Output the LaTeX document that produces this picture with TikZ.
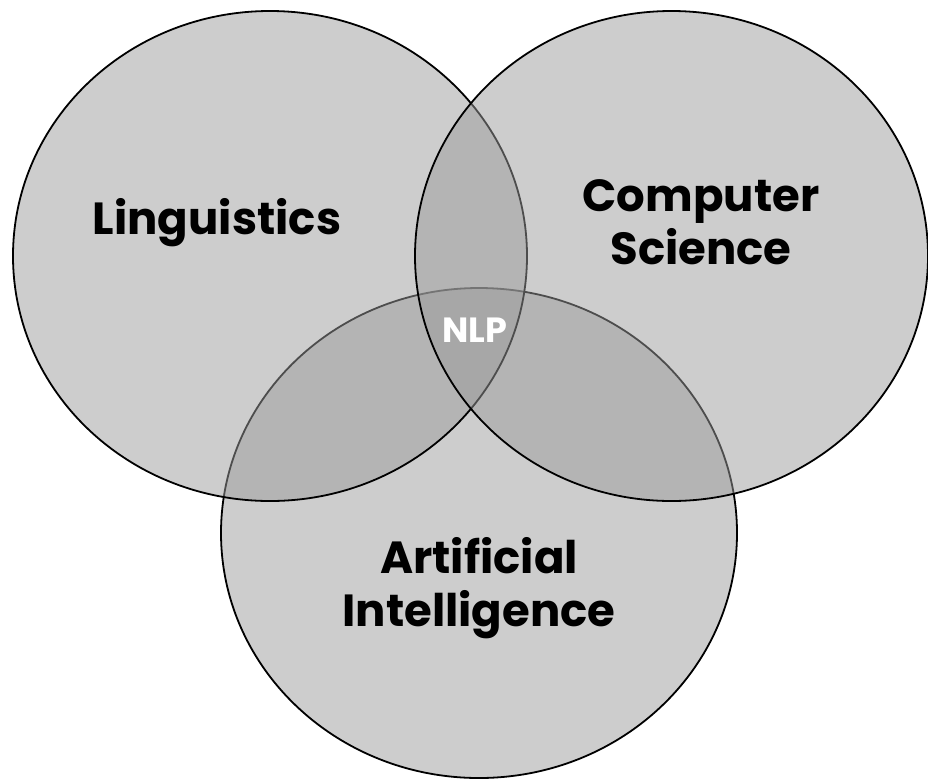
\documentclass[tikz,border=0pt]{standalone}
\usepackage{fontspec}
\setmainfont{Poppins}
\definecolor{setfill}{RGB}{155,155,155}
\begin{document}
\begin{tikzpicture}[x=1pt,y=-1pt,
  setc/.style={draw=black, line width=1.8pt, fill=setfill, fill opacity=0.5},
  big/.style={font=\fontsize{45}{53}\selectfont\bfseries, align=center, text=black},
  small/.style={font=\fontsize{35}{40}\selectfont\bfseries, text=white}]
\useasboundingbox (0,0) rectangle (928,780);
\draw[setc] (479,533) ellipse [x radius=258, y radius=245];
\draw[setc] (270,256) ellipse [x radius=257, y radius=245];
\draw[setc] (671.5,256) ellipse [x radius=256.5, y radius=245];
\node[big] (ling) at (217,223) {Linguistics};
\node[big] (cs) at (701,222) {Computer\\Science};
\node[big] (ai) at (479,588) {Artificial\\Intelligence};
\node[small] (nlp) at (475,330) {NLP};
\end{tikzpicture}
\end{document}
